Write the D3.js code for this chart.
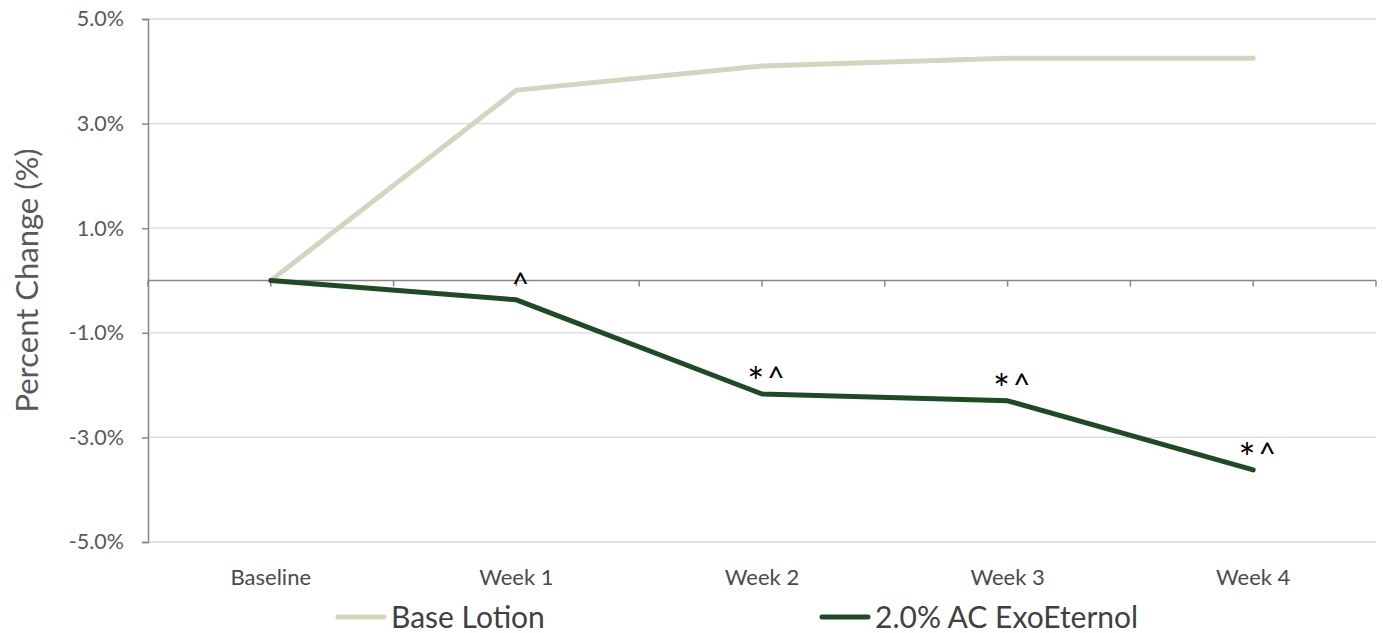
<!DOCTYPE html>
<html>
<head>
<meta charset="utf-8">
<script src="https://cdn.jsdelivr.net/npm/d3@7"></script>
<style>
  body { margin: 0; background: #fff; }
  svg text { font-family: Lato, "Open Sans", sans-serif; }
</style>
</head>
<body>
<div id="chart"></div>
<script>
    'use strict';

    const categories = ['Baseline', 'Week 1', 'Week 2', 'Week 3', 'Week 4'];
    const baseLotion = [0, 3.64, 4.10, 4.25, 4.25];
    const exoEternol = [0, -0.37, -2.17, -2.30, -3.62];
    const marks = ['', '^', '*^', '*^', '*^'];
    const yTicks = [-5, -3, -1, 1, 3, 5];
    const seriesNames = ['Base Lotion', '2.0% AC ExoEternol'];
    const seriesColors = ['#d5d4bf', '#1e4a24'];

    const width = 1383, height = 633;
    const plotLeft = 148, plotRight = 1376, plotTop = 19, plotBottom = 542;

    const svg = d3.select('#chart').append('svg')
        .attr('width', width)
        .attr('height', height);

    const x = d3.scaleBand().domain(categories).range([plotLeft, plotRight]);
    const y = d3.scaleLinear().domain([-5, 5]).range([plotBottom, plotTop]);
    const cx = d => x(d) + x.bandwidth() / 2;

    // gridlines
    svg.append('g')
        .selectAll('line')
        .data(yTicks)
        .join('line')
        .attr('x1', plotLeft).attr('x2', plotRight)
        .attr('y1', d => y(d)).attr('y2', d => y(d))
        .attr('stroke', '#d9d9d9')
        .attr('stroke-width', 1.3);

    // y axis
    const yAxis = svg.append('g')
        .attr('transform', `translate(${plotLeft},0)`)
        .call(d3.axisLeft(y).tickValues(yTicks).tickSize(6).tickPadding(18)
            .tickFormat(d => d.toFixed(1) + '%'));
    yAxis.select('.domain').attr('stroke', '#878787').attr('stroke-width', 1.5);
    yAxis.selectAll('.tick line').attr('stroke', '#878787').attr('stroke-width', 1.5);
    yAxis.selectAll('.tick text')
        .attr('font-size', 21.5)
        .attr('fill', '#595959');

    // x axis at zero, ticks at every half category
    const halfTicks = d3.range(0, categories.length * 2 + 1).map(i => plotLeft + i * x.bandwidth() / 2);
    svg.append('line')
        .attr('x1', plotLeft).attr('x2', plotRight)
        .attr('y1', y(0)).attr('y2', y(0))
        .attr('stroke', '#878787')
        .attr('stroke-width', 1.5);
    svg.append('g')
        .selectAll('line')
        .data(halfTicks)
        .join('line')
        .attr('x1', d => d).attr('x2', d => d)
        .attr('y1', y(0)).attr('y2', y(0) + 6)
        .attr('stroke', '#878787')
        .attr('stroke-width', 1.5);

    // category labels
    svg.append('g')
        .selectAll('text')
        .data(categories)
        .join('text')
        .attr('x', d => cx(d))
        .attr('y', 585)
        .attr('text-anchor', 'middle')
        .attr('font-size', 22)
        .attr('fill', '#4a4a4a')
        .text(d => d);

    // y title
    svg.append('text')
        .attr('transform', `translate(38,${y(0)}) rotate(-90)`)
        .attr('text-anchor', 'middle')
        .attr('font-size', 31)
        .attr('fill', '#595959')
        .text('Percent Change (%)');

    // lines
    const line = d3.line()
        .x((d, i) => cx(categories[i]))
        .y(d => y(d));

    [baseLotion, exoEternol].forEach((s, k) => {
        svg.append('path')
            .datum(s)
            .attr('fill', 'none')
            .attr('stroke', seriesColors[k])
            .attr('stroke-width', 5)
            .attr('stroke-linejoin', 'round')
            .attr('stroke-linecap', 'round')
            .attr('d', line);
    });

    // significance marks: big asterisk, then caret
    const markText = svg.append('g')
        .selectAll('text')
        .data(marks)
        .join('text')
        .attr('x', (d, i) => cx(categories[i]) + 4)
        .attr('y', (d, i) => y(exoEternol[i]) - 5)
        .attr('text-anchor', 'middle')
        .attr('fill', '#000');
    markText.selectAll('tspan')
        .data(d => d.split(''))
        .join('tspan')
        .attr('font-size', c => c === '*' ? 40 : 30)
        .attr('dy', c => c === '*' ? 8 : null)
        .attr('dx', (c, i) => i > 0 ? 3 : null)
        .text(c => c);
    // reset baseline after the shifted asterisk
    markText.selectAll('tspan')
        .filter((c, i) => i > 0)
        .attr('dy', -8);

    // legend
    const legendX = [338, 822];
    const legend = svg.append('g')
        .selectAll('g')
        .data(seriesNames)
        .join('g')
        .attr('transform', (d, i) => `translate(${legendX[i]},617)`);
    legend.append('line')
        .attr('x1', 0).attr('x2', 46)
        .attr('stroke', (d, i) => seriesColors[i])
        .attr('stroke-width', 5)
        .attr('stroke-linecap', 'round');
    legend.append('text')
        .attr('x', 53)
        .attr('dy', '0.35em')
        .attr('font-size', 30)
        .attr('fill', '#404040')
        .text(d => d);
</script>
</body>
</html>
